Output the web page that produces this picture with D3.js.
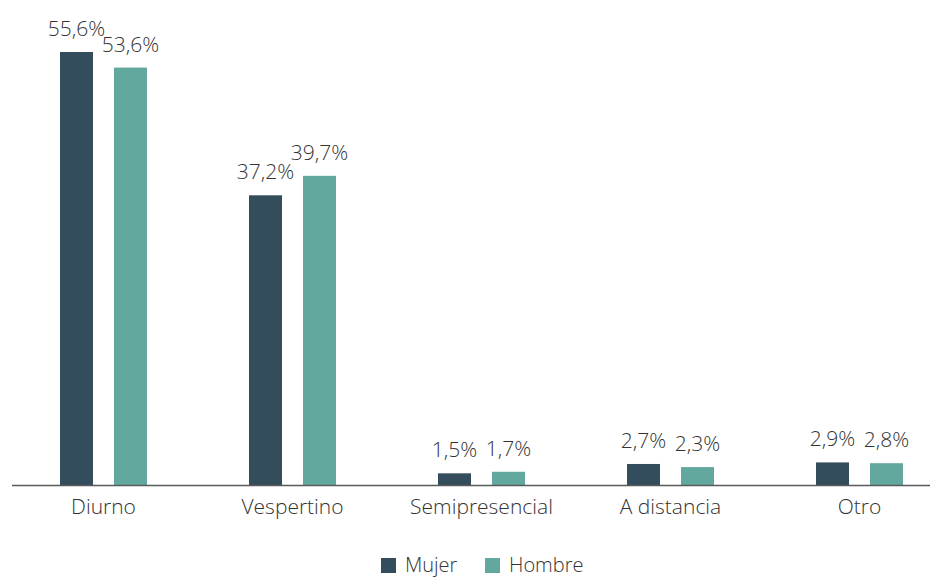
<!DOCTYPE html>
<html>
<head>
<meta charset="utf-8">
<script src="https://cdn.jsdelivr.net/npm/d3@7"></script>
<style>
  body { margin: 0; background: #fff; }
  svg text { font-family: "Open Sans", sans-serif; font-weight: 300; fill: #333; }
</style>
</head>
<body>
<svg id="chart"></svg>
<script>
// chart data
var categories = ['Diurno', 'Vespertino', 'Semipresencial', 'A distancia', 'Otro'];
var seriesNames = ['Mujer', 'Hombre'];
var mujerValues = [55.6, 37.2, 1.5, 2.7, 2.9];
var hombreValues = [53.6, 39.7, 1.7, 2.3, 2.8];
var colors = ['#344d5c', '#62a89f'];

var width = 930, height = 577;
var baseY = 485;

var svg = d3.select('#chart').attr('width', width).attr('height', height);

var rows = categories.map(function(c, i){
    return {cat: c, values: [mujerValues[i], hombreValues[i]]};
});

// scales
var x0 = d3.scaleBand()
    .domain(categories)
    .range([9, 954]);

// two bars of 33px with a 21px gap, centred in each band
var x1 = d3.scaleBand()
    .domain(seriesNames)
    .range([x0.bandwidth()/2 - 43.5, x0.bandwidth()/2 + 43.5])
    .paddingInner(21/54);

var y = d3.scaleLinear()
    .domain([0, 55.6])
    .range([baseY, 52]);

// bars
var groups = svg.selectAll('.group')
    .data(rows)
    .enter().append('g')
    .attr('class', 'group')
    .attr('transform', d => `translate(${x0(d.cat)},0)`);

groups.selectAll('rect')
    .data(d => d.values.map((v, j) => ({name: seriesNames[j], v: v, j: j})))
    .enter().append('rect')
    .attr('x', d => x1(d.name))
    .attr('width', x1.bandwidth())
    .attr('y', d => y(d.v))
    .attr('height', d => baseY - y(d.v))
    .attr('fill', d => colors[d.j]);

// value labels
groups.selectAll('.val')
    .data(d => d.values.map((v, j) => ({name: seriesNames[j], v: v, j: j})))
    .enter().append('text')
    .attr('class', 'val')
    .attr('x', d => x1(d.name) + x1.bandwidth()/2)
    .attr('y', d => y(d.v) - 16)
    .attr('text-anchor', 'middle')
    .style('font-size', '21px')
    .text(d => d3.format('.1f')(d.v).replace('.', ',') + '%');

// x axis
var xAxis = d3.axisBottom(x0).tickSize(0).tickPadding(14);
var xAxisG = svg.append('g')
    .attr('transform', `translate(0,${baseY})`)
    .call(xAxis);
xAxisG.select('.domain').remove();
xAxisG.selectAll('text')
    .style('font-size', '21px')
    .style('font-family', '"Open Sans", sans-serif')
    .attr('fill', '#333');

svg.append('line')
    .attr('x1', 12).attr('x2', width)
    .attr('y1', baseY + 0.5).attr('y2', baseY + 0.5)
    .attr('stroke', '#5a5a5a')
    .attr('stroke-width', 1.5);

// legend
var legend = svg.append('g').attr('transform', 'translate(381,557)');
var legendX = [0, 104];
seriesNames.forEach(function(name, i){
    var item = legend.append('g').attr('transform', `translate(${legendX[i]},0)`);
    item.append('rect')
        .attr('y', 1)
        .attr('width', 15).attr('height', 15)
        .attr('fill', colors[i]);
    item.append('text')
        .attr('x', 24).attr('y', 15)
        .style('font-size', '20px')
        .text(name);
});
</script>
</body>
</html>
